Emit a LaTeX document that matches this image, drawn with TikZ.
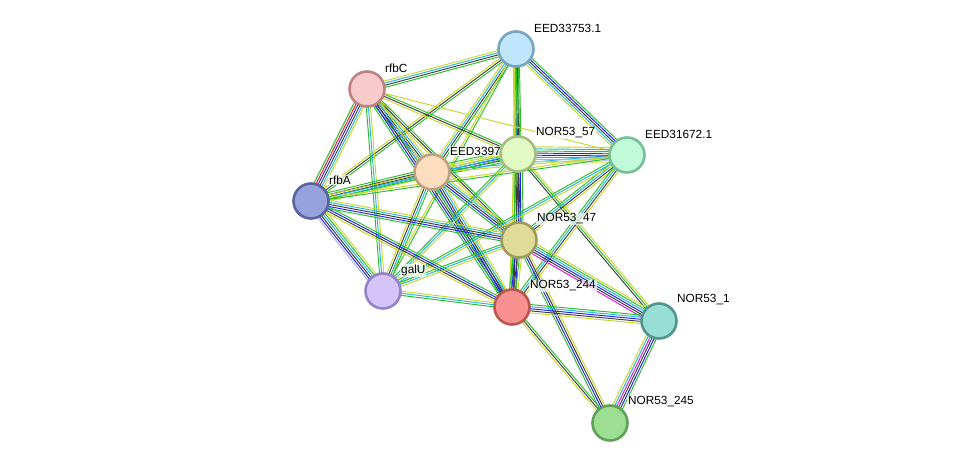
\documentclass[tikz,border=0pt]{standalone}
\usepackage{fontspec}
\setmainfont{Liberation Sans}
\usetikzlibrary{calc}

\definecolor{tmcol}{RGB}{199,214,42}
\definecolor{nbcol}{RGB}{40,190,40}
\definecolor{cocol}{RGB}{60,60,60}
\definecolor{dbcol}{RGB}{35,180,220}
\definecolor{cooccol}{RGB}{30,30,240}
\definecolor{fucol}{RGB}{235,30,30}
\definecolor{excol}{RGB}{225,20,225}
\definecolor{hocol}{RGB}{170,170,240}

\pgfdeclarelayer{edges}
\pgfdeclarelayer{labels}
\pgfsetlayers{edges,labels,main}

% one STRING edge: parallel lines, one per evidence channel
\newcommand{\stredge}[3]{%
  \foreach \ecol [count=\k] in {#3} {\xdef\nlines{\k}}%
  \foreach \ecol [count=\k] in {#3} {%
    \pgfmathsetmacro{\off}{(\k-(\nlines+1)/2)*2.1}%
    \draw[\ecol] ($(#1)!\off pt!90:(#2)$) -- ($(#2)!\off pt!-90:(#1)$);
  }}

\begin{document}
\begin{tikzpicture}[
    x=1pt, y=-1pt,
    prot/.style={circle, minimum size=35pt, inner sep=0pt, line width=2.6pt},
    lbl/.style={anchor=west, font=\fontsize{11.8}{14}\selectfont, fill=white, fill opacity=0.7, text opacity=1, inner sep=1pt},
    tm/.style={draw=tmcol, line width=0.95pt},
    nb/.style={draw=nbcol, line width=0.95pt},
    co/.style={draw=cocol, line width=0.95pt},
    db/.style={draw=dbcol, line width=0.95pt},
    cooc/.style={draw=cooccol, line width=0.95pt},
    fu/.style={draw=fucol, line width=0.95pt},
    ex/.style={draw=excol, line width=0.95pt},
    ho/.style={draw=hocol, line width=0.95pt},
]
\useasboundingbox (0,0) rectangle (975,469);

% proteins
\node[prot, fill={rgb,255:red,191;green,230;blue,250}, draw={rgb,255:red,120;green,165;blue,190}] (n33753) at (516,49) {};
\node[prot, fill={rgb,255:red,248;green,202;blue,202}, draw={rgb,255:red,190;green,130;blue,130}] (rfbC) at (367,89) {};
\node[prot, fill={rgb,255:red,226;green,250;blue,196}, draw={rgb,255:red,165;green,190;blue,130}] (n57) at (518,154) {};
\node[prot, fill={rgb,255:red,192;green,250;blue,216}, draw={rgb,255:red,120;green,190;blue,150}] (n31672) at (627,155) {};
\node[prot, fill={rgb,255:red,252;green,222;blue,190}, draw={rgb,255:red,190;green,160;blue,130}] (n3397) at (432,172) {};
\node[prot, fill={rgb,255:red,150;green,162;blue,220}, draw={rgb,255:red,90;green,100;blue,160}] (rfbA) at (311,201) {};
\node[prot, fill={rgb,255:red,222;green,220;blue,152}, draw={rgb,255:red,160;green,155;blue,90}] (n47) at (519,240) {};
\node[prot, fill={rgb,255:red,212;green,196;blue,250}, draw={rgb,255:red,150;green,130;blue,200}] (galU) at (383,291) {};
\node[prot, fill={rgb,255:red,250;green,145;blue,145}, draw={rgb,255:red,190;green,85;blue,85}] (n244) at (512,307) {};
\node[prot, fill={rgb,255:red,152;green,222;blue,212}, draw={rgb,255:red,80;green,150;blue,140}] (n1) at (659,321) {};
\node[prot, fill={rgb,255:red,156;green,222;blue,146}, draw={rgb,255:red,95;green,160;blue,90}] (n245) at (610,423) {};

% names
\begin{pgfonlayer}{labels}
\node[lbl] (t33753) at ([shift={(17,-21)}]n33753.center) {EED33753.1};
\node[lbl] (trfbC) at ([shift={(17,-21)}]rfbC.center) {rfbC};
\node[lbl] (t57) at ([shift={(17,-21)}]n57.center) {NOR53\_57};
\node[lbl] (t31672) at ([shift={(17,-21)}]n31672.center) {EED31672.1};
\node[lbl] (t3397) at ([shift={(17,-21)}]n3397.center) {EED33971.1};
\node[lbl] (trfbA) at ([shift={(17,-21)}]rfbA.center) {rfbA};
\node[lbl] (t47) at ([shift={(17,-21)}]n47.center) {NOR53\_47};
\node[lbl] (tgalU) at ([shift={(17,-21)}]galU.center) {galU};
\node[lbl] (t244) at ([shift={(17,-21)}]n244.center) {NOR53\_244};
\node[lbl] (t1) at ([shift={(17,-21)}]n1.center) {NOR53\_1};
\node[lbl] (t245) at ([shift={(17,-21)}]n245.center) {NOR53\_245};
\end{pgfonlayer}

% interactions
\begin{pgfonlayer}{edges}
\stredge{n33753}{rfbC}{tm,db,co,nb}
\stredge{n33753}{rfbA}{tm,co,nb}
\stredge{n33753}{n3397}{tm,db,co,nb}
\stredge{n33753}{galU}{tm,nb}
\stredge{n33753}{n57}{tm,db,co,nb}
\stredge{n33753}{n47}{tm,co,nb}
\stredge{n33753}{n244}{tm,nb}
\stredge{n33753}{n31672}{tm,db,co,cooc,nb}
\stredge{rfbC}{rfbA}{nb,fu,cooc,co,db,tm}
\stredge{rfbC}{n3397}{nb,cooc,co,db,tm}
\stredge{rfbC}{n57}{tm,co,nb}
\stredge{rfbC}{n31672}{tm}
\stredge{rfbC}{n47}{tm,co,nb}
\stredge{rfbC}{n244}{nb,cooc,co,db,tm}
\stredge{rfbC}{galU}{nb,db,tm}
\stredge{n3397}{rfbA}{nb,co,co,db,tm}
\stredge{n3397}{n57}{nb,co,cooc,db,tm,nb}
\stredge{n3397}{n31672}{tm,db}
\stredge{n3397}{n47}{nb,cooc,co,db,tm}
\stredge{n3397}{n244}{nb,cooc,co,db,tm}
\stredge{n3397}{galU}{tm,co,db,nb}
\stredge{n57}{n31672}{tm,ho,db,cooc,co,nb,db,tm}
\stredge{n57}{n47}{nb,co,co,cooc,nb}
\stredge{n57}{n244}{tm,nb,co,cooc}
\stredge{n57}{rfbA}{tm,db,nb}
\stredge{n57}{galU}{nb,db,tm}
\stredge{n57}{n1}{co,nb,tm}
\stredge{n31672}{n47}{nb,db,co,tm}
\stredge{n31672}{n244}{nb,db,co,tm}
\stredge{n31672}{galU}{nb,db,tm}
\stredge{n31672}{rfbA}{tm,nb}
\stredge{rfbA}{n47}{nb,cooc,co,db,tm}
\stredge{rfbA}{n244}{tm,co,cooc,nb}
\stredge{rfbA}{galU}{ho,cooc,co,db,nb,tm}
\stredge{n47}{n244}{nb,cooc,co,nb,tm}
\stredge{n47}{n1}{ex,co,cooc,db,nb,tm}
\stredge{n47}{galU}{nb,db,tm}
\stredge{n47}{n245}{nb,cooc,co,tm}
\stredge{galU}{n244}{nb,db,tm}
\stredge{n244}{n1}{tm,co,cooc,db,nb}
\stredge{n244}{n245}{tm,co,nb}
\stredge{n1}{n245}{tm,db,ex,co,cooc,nb}
\end{pgfonlayer}
\end{tikzpicture}
\end{document}
